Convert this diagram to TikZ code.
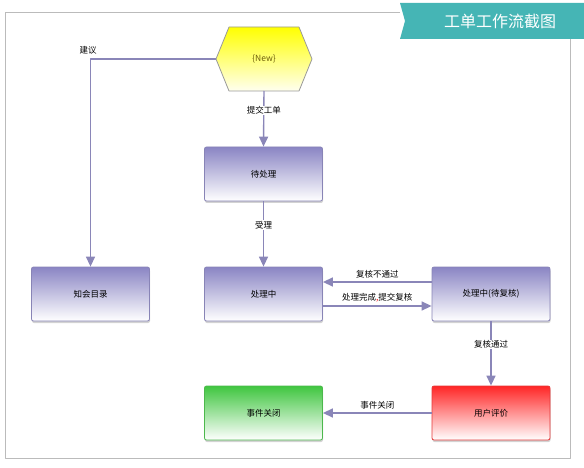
\documentclass[tikz,border=0pt]{standalone}
\usepackage{fontspec}
\newfontfamily\cjk{Noto Sans CJK SC}
\usetikzlibrary{arrows.meta,shadows,positioning}
\definecolor{lav}{HTML}{8A85C4}
\definecolor{lavline}{HTML}{A29EC6}
\definecolor{linkc}{HTML}{8A86B8}
\definecolor{teal}{HTML}{45B5B5}
\definecolor{frame}{HTML}{BBBBBB}
\begin{document}
\begin{tikzpicture}[x=1pt,y=-1pt,>={Triangle[length=10pt,width=9pt]},line join=round,
	font=\cjk\fontsize{8.5}{10}\selectfont,
	box/.style={rectangle,rounded corners=2pt,minimum width=118pt,minimum height=54pt,
		draw=#1!80!gray,line width=0.8pt,top color=#1,bottom color=white,
		drop shadow={shadow xshift=0.5pt,shadow yshift=-2pt,opacity=.35,fill=gray}},
	link/.style={draw=linkc,line width=1.4pt,->},
	tag/.style={fill=white,inner sep=1pt}]
	\useasboundingbox (0,0) rectangle (584,468);
	% frame and title banner
	\draw[frame,line width=0.8pt] (400,12)--(5,12)--(5,458)--(570,458)--(570,39);
	\fill[teal] (400,3)--(584,3)--(584,39)--(400,39)--(405,21)--cycle;
	\node[text=white,font=\cjk\fontsize{16}{18}\selectfont] (title) at (500,21) {工单工作流截图};
	% start hexagon
	\path (216,59) coordinate (hexL) (264,91) coordinate (hexB);
	\draw[draw=gray!80,line width=0.8pt,top color=yellow,bottom color=yellow!6] (229,27)--(299,27)--(312,59)--(299,91)--(229,91)--(216,59)--cycle;
	\node[text={rgb,255:red,110;green,95;blue,10}] (new) at (264,59) {\{New\}};
	% states
	\node[box=lav] (pend) at (263.5,174) {待处理};
	\node[box=lav] (proc) at (263.5,294) {处理中};
	\node[box=lav] (kb) at (90.5,294) {知会目录};
	\node[box=lav] (rev) at (491,294) {处理中(待复核)};
	\node[box=red!85!white] (eval) at (491,413) {用户评价};
	\node[box=green!70!black!75!white] (close) at (263.5,413) {事件关闭};
	% transitions
	\draw[link] (hexL) -| (kb.north);
	\node (jy) at (88,50) {建议};
	\draw[link] (hexB) -- node[tag,pos=.35] {提交工单} (pend.north);
	\draw[link] (pend) -- node[tag,pos=.36] {受理} (proc);
	\draw[link] ([yshift=12pt]rev.west) -- node[above] {复核不通过} ([yshift=12pt]proc.east);
	\draw[link] ([yshift=-12pt]proc.east) -- node[above] {处理完成{\color{red},}提交复核} ([yshift=-12pt]rev.west);
	\draw[link] (rev) -- node[tag,pos=.36] {复核通过} (eval);
	\draw[link] (eval) -- node[above] {事件关闭} (close);
\end{tikzpicture}
\end{document}
